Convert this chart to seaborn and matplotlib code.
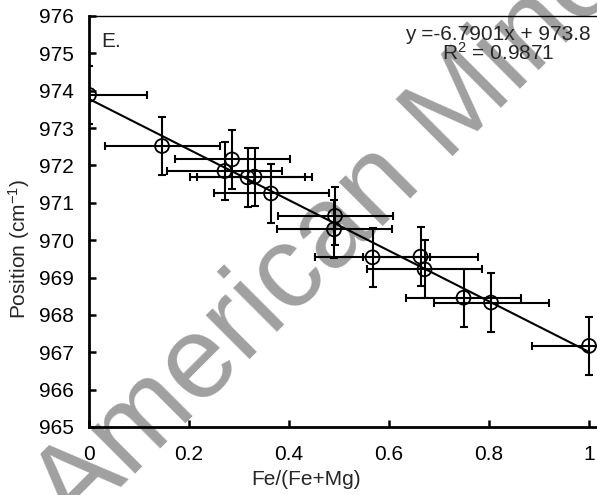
import numpy as np
import pandas as pd
import seaborn as sns
import matplotlib.pyplot as plt

# data
fe_ratio = [0.0, 0.146, 0.286, 0.271, 0.317, 0.331, 0.364, 0.492, 0.490,
            0.567, 0.663, 0.671, 0.749, 0.804, 1.0]
position = [973.89, 972.52, 972.16, 971.85, 971.68, 971.70, 971.25, 970.65,
            970.29, 969.54, 969.56, 969.22, 968.46, 968.33, 967.17]
x_err = [0.115] * 15
y_err = [0.78] * 15
x_ticks = [0, 0.2, 0.4, 0.6, 0.8, 1.0]
x_tick_labels = ["0", "0.2", "0.4", "0.6", "0.8", "1"]
y_ticks = list(range(965, 977))

sns.set_style("ticks")
plt.rcParams["font.family"] = ["Liberation Sans", "DejaVu Sans"]
plt.rcParams["mathtext.fontset"] = "custom"
plt.rcParams["mathtext.rm"] = "Liberation Sans"
plt.rcParams["mathtext.it"] = "Liberation Sans:italic"

df = pd.DataFrame({"x": fe_ratio, "y": position, "xerr": x_err, "yerr": y_err})

fig = plt.figure(figsize=(5.97, 4.95), dpi=100)
ax = fig.add_axes([0.1491, 0.1374, 0.8543, 0.8303])
ax.patch.set_alpha(0)

# watermark behind the plot
fig.text(0.126, -0.079, "American Mineralogist", fontsize=84, color="#a0a0a0",
         rotation=45, rotation_mode="anchor", ha="left", va="baseline", zorder=-1)

# fitted line
sns.regplot(data=df, x="x", y="y", scatter=False, ci=None, ax=ax,
            line_kws={"color": "black", "lw": 1.5, "zorder": 2})

# error bars
ax.errorbar(df["x"], df["y"], xerr=df["xerr"], yerr=df["yerr"], fmt="none",
            ecolor="black", elinewidth=1.5, capsize=3, capthick=1.5, zorder=3)

# open circles
sns.scatterplot(data=df, x="x", y="y", ax=ax, s=100, facecolor="none",
                edgecolor="black", linewidth=1.3, zorder=4)

ax.set_xlim(0, 1.02)
ax.set_ylim(965, 976)
ax.set_xticks(x_ticks)
ax.set_xticklabels(x_tick_labels)
ax.set_yticks(y_ticks)

ax.tick_params(direction="in", length=5, width=1.8, labelsize=15, colors="black")
ax.tick_params(axis="x", pad=13)
ax.tick_params(axis="y", pad=11)

ax.spines["right"].set_visible(False)
ax.spines["top"].set_linewidth(1)
ax.spines["left"].set_linewidth(2)
ax.spines["bottom"].set_linewidth(2)
for s in ax.spines.values():
    s.set_color("black")

ax.set_xlabel("Fe/(Fe+Mg)", fontsize=15)
ax.set_ylabel(r"Position (cm$^{\mathregular{-1}}$)", fontsize=15)
ax.xaxis.set_label_coords(0.425, -0.105)
ax.yaxis.set_label_coords(-0.112, 0.433)

ax.text(0.0235, 0.962, "E.", transform=ax.transAxes, fontsize=15,
        ha="left", va="top")
ax.text(0.802, 0.9416, "y =-6.7901x + 973.8", transform=ax.transAxes,
        fontsize=15, ha="center", va="baseline")
ax.text(0.802, 0.893, r"R$^2$ = 0.9871", transform=ax.transAxes,
        fontsize=15, ha="center", va="baseline")

fig.savefig("out.png", dpi=100)
